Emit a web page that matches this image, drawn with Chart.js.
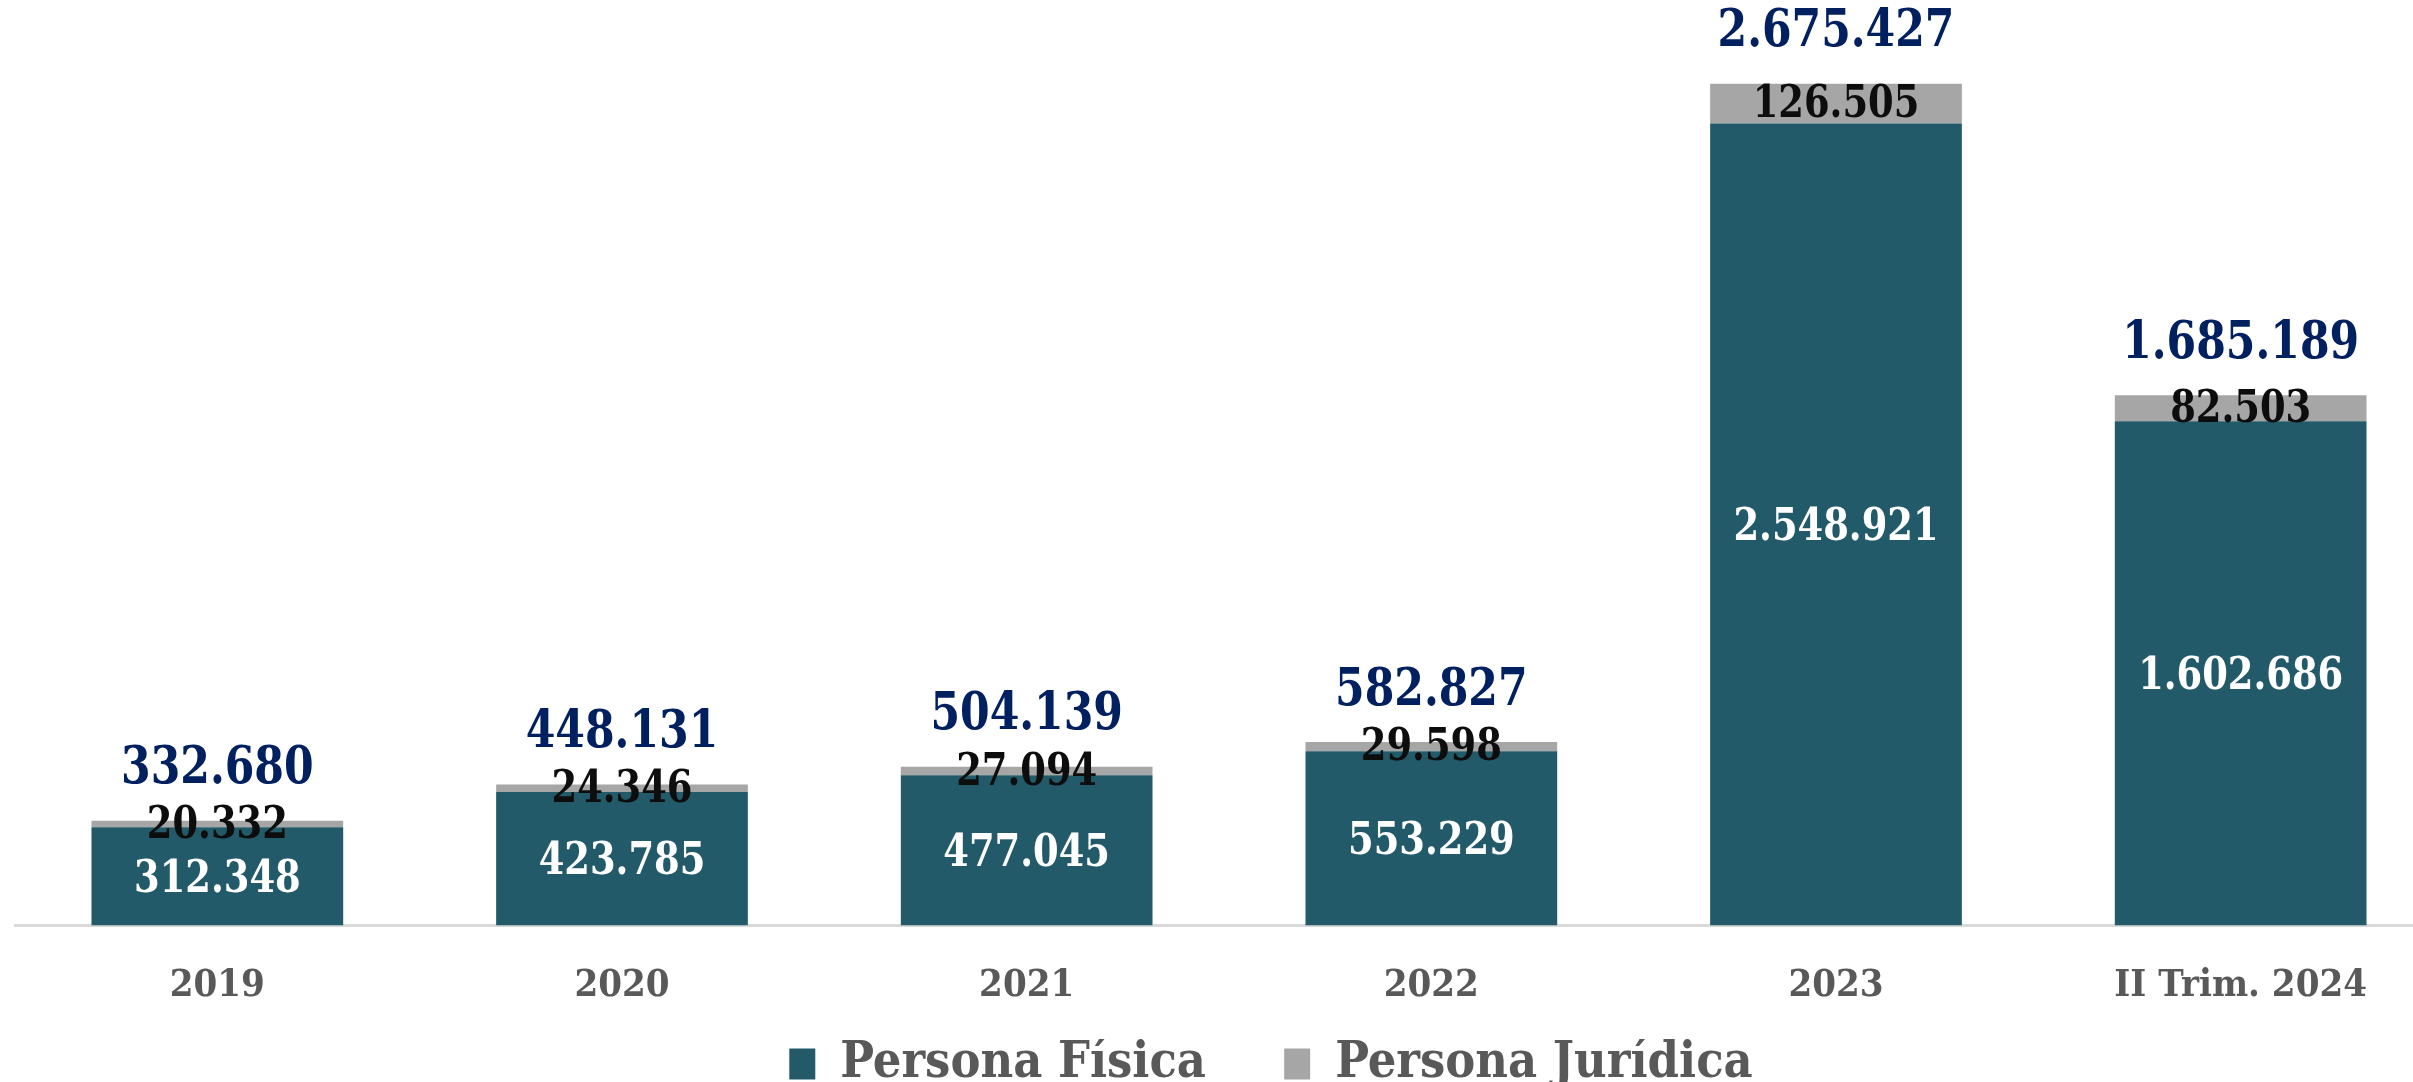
<!DOCTYPE html>
<html>
<head>
<meta charset="utf-8">
<script src="https://cdn.jsdelivr.net/npm/chart.js@4"></script>
<style>
  html, body { margin: 0; padding: 0; background: #ffffff; overflow: hidden; }
  #wrap { width: 2450px; height: 1082px; }
</style>
</head>
<body>
<div id="wrap"><canvas id="myChart" width="2450" height="1082"></canvas></div>
<script>
const categories = ["2019", "2020", "2021", "2022", "2023", "II Trim. 2024"];
const fisica = [312348, 423785, 477045, 553229, 2548921, 1602686];
const juridica = [20332, 24346, 27094, 29598, 126505, 82503];
const totals = [332680, 448131, 504139, 582827, 2675427, 1685189];
const seriesNames = ["Persona Física", "Persona Jurídica"];

const FONT = "'DejaVu Serif Condensed', 'Liberation Serif', serif";

function fmt(n) {
  return String(n).replace(/\B(?=(\d{3})+(?!\d))/g, ".");
}

// draw text a bit narrower, the original font is condensed
function narrowText(ctx, text, x, y) {
  ctx.save();
  ctx.translate(x, y);
  ctx.scale(0.91, 1);
  ctx.fillText(text, 0, 0);
  ctx.restore();
}

// labels inside the bars and totals above them
const barLabels = {
  id: "barLabels",
  afterLayout(chart) {
    // legend sits a little right of centre in the original
    chart.legend.left += 42;
    chart.legend.right += 42;
  },
  afterDatasetsDraw(chart) {
    const ctx = chart.ctx;
    const metaF = chart.getDatasetMeta(0);
    const metaJ = chart.getDatasetMeta(1);
    const y = chart.scales.y;
    ctx.save();
    ctx.textAlign = "center";
    ctx.textBaseline = "middle";
    metaF.data.forEach(function (bar, i) {
      ctx.font = "bold 45px " + FONT;
      ctx.fillStyle = "#ffffff";
      narrowText(ctx, fmt(fisica[i]), bar.x, (bar.y + bar.base) / 2 + 4);

      const jb = metaJ.data[i];
      ctx.fillStyle = "#0d0d0d";
      narrowText(ctx, fmt(juridica[i]), jb.x, (jb.y + jb.base) / 2 + 2);

      ctx.font = "bold 52px " + FONT;
      ctx.fillStyle = "#002060";
      narrowText(ctx, fmt(totals[i]), jb.x, y.getPixelForValue(totals[i]) - 51);
    });
    ctx.restore();
  },
};

const data = {
  labels: categories,
  datasets: [
    {
      label: seriesNames[0],
      data: fisica,
      backgroundColor: "#235a69",
      barPercentage: 0.622,
      categoryPercentage: 1,
    },
    {
      label: seriesNames[1],
      data: juridica,
      backgroundColor: "#a6a6a6",
      barPercentage: 0.622,
      categoryPercentage: 1,
    },
  ],
};

const config = {
  type: "bar",
  data,
  options: {
    responsive: false,
    animation: false,
    layout: { padding: { left: 15, right: 7, top: 10, bottom: -17 } },
    plugins: {
      tooltip: { enabled: false },
      legend: {
        position: "bottom",
        labels: {
          boxWidth: 26,
          boxHeight: 31,
          padding: 0,
          color: "#595959",
          font: { family: FONT, size: 50, weight: "bold" },
          generateLabels(chart) {
            const items = Chart.defaults.plugins.legend.labels.generateLabels(chart);
            items[0].text = items[0].text + "     ";
            return items;
          },
        },
      },
    },
    scales: {
      x: {
        stacked: true,
        grid: { display: false },
        border: { display: true, color: "#d9d9d9", width: 3 },
        ticks: {
          color: "#595959",
          padding: 30,
          font: { family: FONT, size: 38, weight: "bold" },
        },
      },
      y: {
        stacked: true,
        display: false,
        min: 0,
        max: 2910000,
      },
    },
  },
  plugins: [barLabels],
};

const myChart = new Chart(document.getElementById("myChart"), config);
</script>
</body>
</html>
